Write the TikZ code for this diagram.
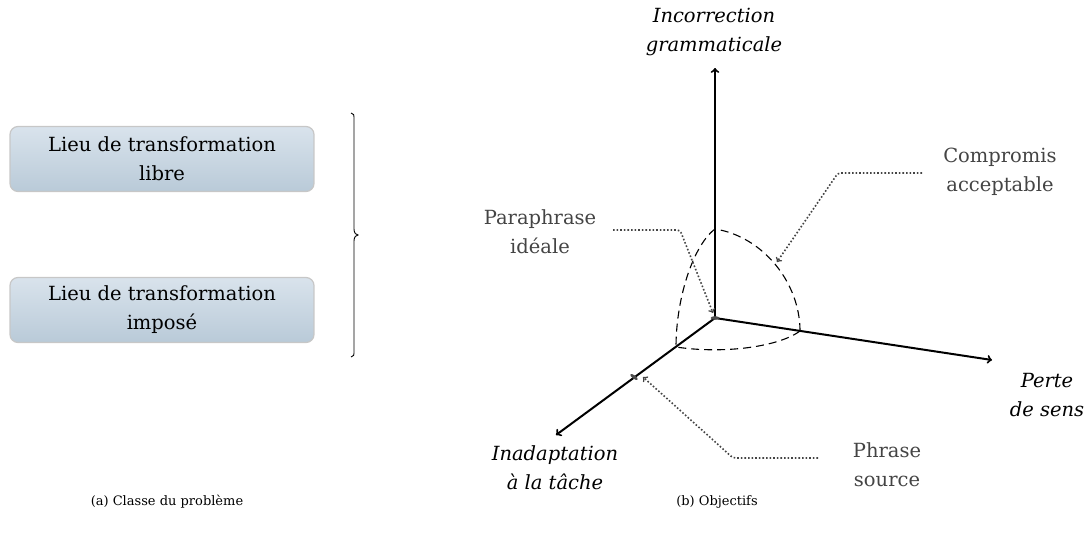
\documentclass[tikz,border=0pt]{standalone}
\usepackage{fontspec}
\setmainfont{DejaVu Serif}
\usetikzlibrary{arrows}
\definecolor{lieuhaut}{HTML}{D9E3EC}
\definecolor{lieubas}{HTML}{B9CAD8}
\definecolor{legende}{HTML}{444444}
\newcommand\grandfont{\fontsize{19.5}{29}\selectfont}
\newcommand\petitfont{\fontsize{13}{16}\selectfont}

\begin{document}
\begin{tikzpicture}[x=1pt,y=-1pt,
	lieu/.style={draw=black!22,line width=1.2pt,rounded corners=8pt,top color=lieuhaut,bottom color=lieubas,minimum width=304pt,minimum height=65pt,align=center,font=\grandfont},
	axe/.style={->,line width=2pt},
	titre/.style={align=center,font=\grandfont\itshape},
	remarque/.style={align=center,text=legende,font=\grandfont},
	renvoi/.style={->,dotted,line width=1.6pt,draw=legende,rounded corners=3pt},
	arc/.style={line width=1.1pt,dash pattern=on 8pt off 5pt,domain=0:90,samples=40,variable=\t}]
\useasboundingbox (0,0) rectangle (1091,541);
\node[lieu] (libre) at (162,159) {Lieu de transformation\\libre};
\node[lieu] (impose) at (162,310) {Lieu de transformation\\impos\'e};
\draw[line width=0.9pt] (351,113) .. controls (354,114) .. (354,120) -- (354,229) .. controls (354,233) and (356,235) .. (358,235) .. controls (356,235) and (354,237) .. (354,241) -- (354,350) .. controls (354,356) .. (351,357);
\node[font=\petitfont] (capa) at (167,502) {(a) Classe du probl\`eme};
\node[font=\petitfont] (capb) at (717,502) {(b) Objectifs};
\coordinate (O) at (715,318);
\coordinate (gramfin) at (715,68);
\coordinate (sensfin) at (992,360);
\coordinate (tachefin) at (556,435);
\coordinate (source) at (634,377);
\node[titre] (gram) at (714,32) {Incorrection\\grammaticale};
\node[titre] (sens) at (1047,395) {Perte\\de sens};
\node[titre] (tache) at (555,468) {Inadaptation\\\`a la t\^ache};
\draw[axe] (O) -- (gramfin);
\draw[axe] (O) -- (sensfin);
\draw[axe] (O) -- (tachefin);
\draw[arc] plot ({715+85*cos(\t)},{318+13*cos(\t)-89*sin(\t)});
\draw[arc] plot ({715-39*sin(\t)},{318-89*cos(\t)+29*sin(\t)});
\draw[arc] plot ({715+85*cos(\t)-39*sin(\t)},{318+13*cos(\t)+29*sin(\t)});
\fill[black!70] (O) ellipse (4.5pt and 1.8pt);
\fill[black!70,rotate around={-36:(source)}] (source) ellipse (4.5pt and 1.8pt);
\node[remarque] (ideale) at (540,232) {Paraphrase\\id\'eale};
\node[remarque] (compromis) at (1000,172) {Compromis\\acceptable};
\node[remarque] (phrase) at (887,465) {Phrase\\source};
\draw[renvoi] (613,230) -- (680,230) -- (713,313);
\draw[renvoi] (922,173) -- (838,173) -- (777,262);
\draw[renvoi] (818,458) -- (733,458) -- (643,377);
\end{tikzpicture}
\end{document}
